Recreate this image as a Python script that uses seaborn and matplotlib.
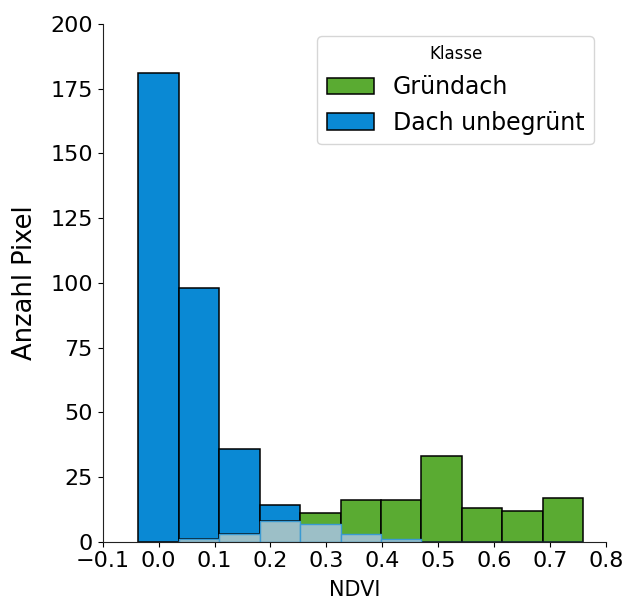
import numpy as np
import pandas as pd
import seaborn as sns
import matplotlib.pyplot as plt

# NDVI histogram bins (11 equal-width bins)
bin_edges = list(np.linspace(-0.036, 0.7595, 12))

# pixel counts per bin for each roof class
gruendach = [0, 1, 3, 8, 11, 16, 16, 33, 13, 12, 17]
unbegruent = [181, 98, 36, 14, 7, 3, 1, 0, 0, 0, 0]
klassen = ["Gründach", "Dach unbegrünt"]
farben = ["#5aab32", "#0a89d4"]

edges = np.array(bin_edges)
centers = (edges[:-1] + edges[1:]) / 2
df = pd.DataFrame({
    "NDVI": np.concatenate([centers, centers]),
    "Anzahl": gruendach + unbegruent,
    "Klasse": [klassen[0]] * len(centers) + [klassen[1]] * len(centers),
})
overlap = pd.DataFrame({
    "NDVI": centers,
    "Anzahl": np.minimum(gruendach, unbegruent),
})

sns.set_style("ticks")
plt.rcParams.update({
    "text.color": "black",
    "axes.labelcolor": "black",
    "xtick.color": "black",
    "ytick.color": "black",
    "axes.edgecolor": "#222222",
})
fig = plt.figure(figsize=(6.24, 6.04), dpi=100)
ax = fig.add_axes([0.1646, 0.1031, 0.8062, 0.8572])

sns.histplot(df, x="NDVI", weights="Anzahl", hue="Klasse", hue_order=klassen,
             bins=bin_edges, multiple="layer", palette=farben, alpha=1,
             edgecolor="black", linewidth=1.1, ax=ax)
# shared counts of both classes
sns.histplot(overlap, x="NDVI", weights="Anzahl", bins=bin_edges,
             color="#9cbfc7", alpha=1, edgecolor="#3a9ad2", linewidth=1.0, ax=ax)

ax.set_xlim(-0.1, 0.8)
ax.set_ylim(0, 200)
ax.set_xticks(np.arange(-0.1, 0.81, 0.1))
ax.set_yticks(np.arange(0, 201, 25))
ax.tick_params(labelsize=16)
ax.set_xlabel("NDVI", fontsize=15, labelpad=6)
ax.set_ylabel("Anzahl Pixel", fontsize=18.5, labelpad=9)
sns.despine(ax=ax)

sns.move_legend(ax, "upper right", fontsize=17, title="Klasse", title_fontsize=12)

fig.savefig("out.png", dpi=100)
